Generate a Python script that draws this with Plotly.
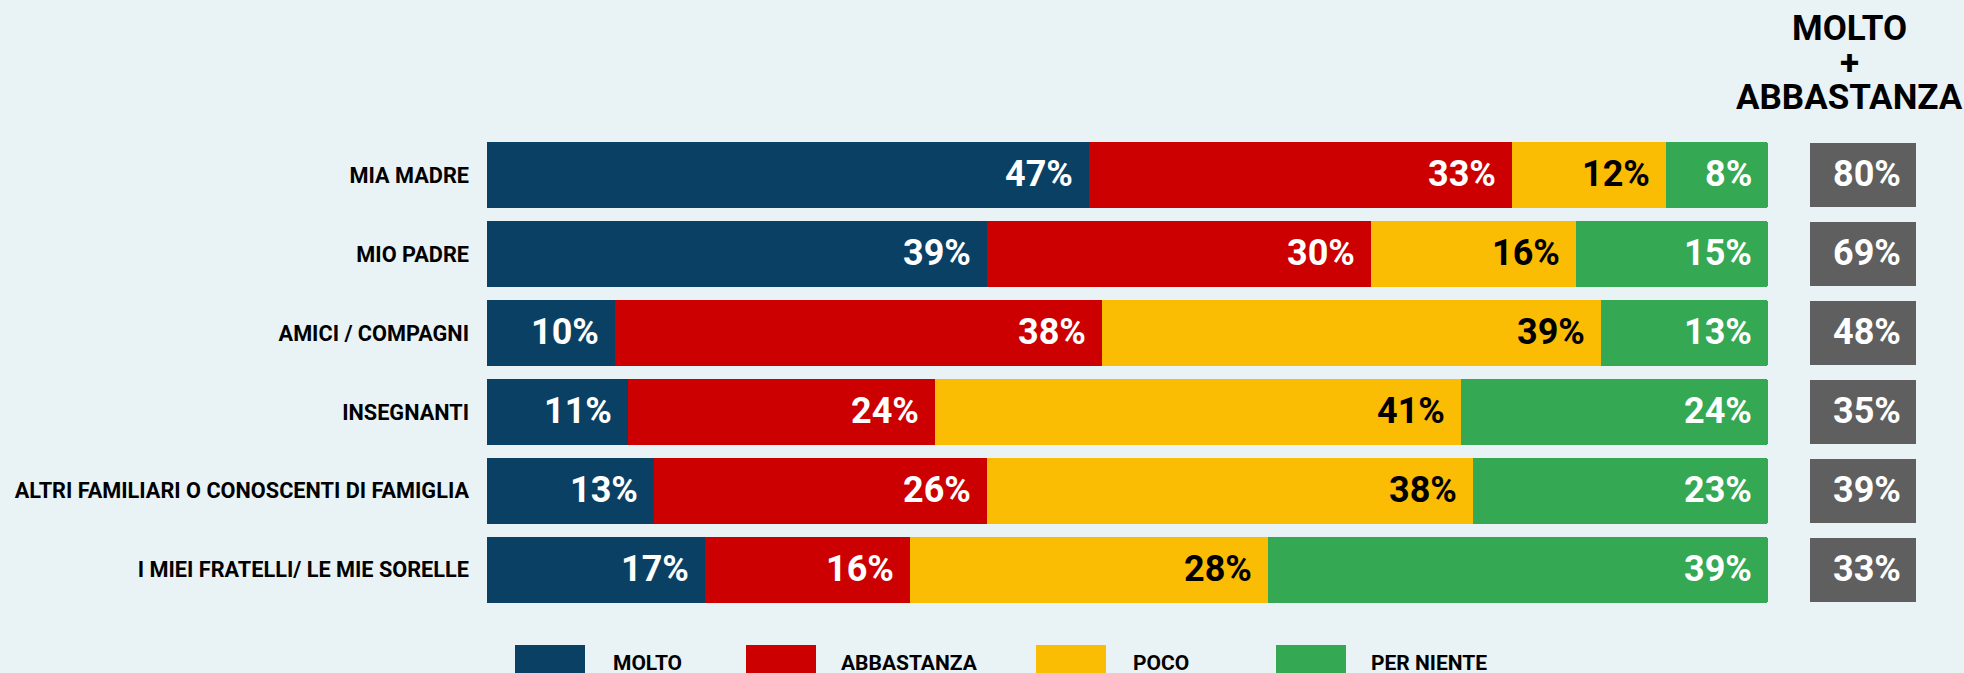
import plotly.graph_objects as go

# --- data -------------------------------------------------------------
categories = [
    "MIA MADRE",
    "MIO PADRE",
    "AMICI / COMPAGNI",
    "INSEGNANTI",
    "ALTRI FAMILIARI O CONOSCENTI DI FAMIGLIA",
    "I MIEI FRATELLI/ LE MIE SORELLE",
]
series_names = ["MOLTO", "ABBASTANZA", "POCO", "PER NIENTE"]
molto = [47, 39, 10, 11, 13, 17]
abbastanza = [33, 30, 38, 24, 26, 16]
poco = [12, 16, 39, 41, 38, 28]
per_niente = [8, 15, 13, 24, 23, 39]
summary_title = ["MOLTO", "+", "ABBASTANZA"]

# --- style ------------------------------------------------------------
W, H = 1964, 673
BG = "#e9f2f4"
COLORS = ["#0a4064", "#cc0000", "#fbbc04", "#34a853"]
TEXT_COLORS = ["white", "white", "black", "white"]
GRAY = "#5f5f5f"
FONT = "Roboto"

# plot area in pixels
PLOT_TOP, PLOT_BOTTOM = 135.5, 609.0
MAIN_X0, MAIN_X1 = 487, 1768
BOX_X0, BOX_X1 = 1810, 1916


def px_x(p):
    return p / W


def px_y(p):
    return (PLOT_BOTTOM - p) / (PLOT_BOTTOM - PLOT_TOP)


fig = go.Figure()

series = [molto, abbastanza, poco, per_niente]
for i, (name, vals) in enumerate(zip(series_names, series)):
    marker = dict(color=COLORS[i], line=dict(width=0))
    if i == len(series) - 1:
        marker["cornerradius"] = 3
    fig.add_trace(go.Bar(
        y=categories, x=vals, name=name, orientation="h",
        marker=marker, width=0.836, showlegend=False,
        hoverinfo="x+y+name",
    ))

# value labels at the inner end of every segment
running = [0] * len(categories)
for i, vals in enumerate(series):
    for j, v in enumerate(vals):
        running[j] += v
        fig.add_annotation(
            x=running[j], y=categories[j], xref="x", yref="y",
            text=f"{v}%", showarrow=False, xanchor="right", yanchor="middle",
            xshift=-14, yshift=1,
            font=dict(family=FONT, size=36, color=TEXT_COLORS[i], weight="bold"),
        )

# MOLTO + ABBASTANZA column
totals = [m + a for m, a in zip(molto, abbastanza)]
fig.add_trace(go.Bar(
    y=categories, x=[1] * len(categories), orientation="h",
    xaxis="x2", yaxis="y", marker=dict(color=GRAY, line=dict(width=0)),
    width=0.81, showlegend=False,
    hovertext=[f"{t}%" for t in totals], hoverinfo="text+y",
))
for j, t in enumerate(totals):
    fig.add_annotation(
        x=0.5, y=categories[j], xref="x2", yref="y",
        text=f"{t}%", showarrow=False, xanchor="center", yanchor="middle",
        xshift=4, yshift=1,
        font=dict(family=FONT, size=36, color="white", weight="bold"),
    )

# column header
for line, yc in zip(summary_title, [28, 63, 97]):
    fig.add_annotation(
        x=px_x(1849), y=px_y(yc), xref="paper", yref="paper",
        text=line, showarrow=False, xanchor="center", yanchor="middle",
        font=dict(family=FONT, size=35, color="black", weight="bold"),
    )

# legend drawn as swatches + labels along the bottom
swatch_x = [515, 746, 1036, 1276]
label_x = [611, 839, 1131, 1369]
for i, name in enumerate(series_names):
    fig.add_shape(
        type="rect", xref="paper", yref="paper",
        x0=px_x(swatch_x[i]), x1=px_x(swatch_x[i] + 70),
        y0=px_y(645), y1=px_y(700),
        fillcolor=COLORS[i], line=dict(width=0), layer="above",
    )
    fig.add_annotation(
        x=px_x(label_x[i]), y=px_y(663), xref="paper", yref="paper",
        text=name, showarrow=False, xanchor="left", yanchor="middle",
        font=dict(family=FONT, size=21, color="black", weight="bold"),
    )

fig.update_layout(
    width=W, height=H,
    paper_bgcolor=BG, plot_bgcolor=BG,
    barmode="stack", bargap=0,
    margin=dict(l=0, r=0, t=PLOT_TOP, b=H - PLOT_BOTTOM, pad=0),
    font=dict(family=FONT),
    xaxis=dict(domain=[px_x(MAIN_X0), px_x(MAIN_X1)], range=[0, 100],
               visible=False, fixedrange=True),
    xaxis2=dict(domain=[px_x(BOX_X0), px_x(BOX_X1)], range=[0, 1],
                visible=False, fixedrange=True, anchor="y"),
    yaxis=dict(categoryorder="array", categoryarray=categories,
               range=[len(categories) - 0.5, -0.5],
               showgrid=False, zeroline=False, showline=False, ticks="",
               ticklabelstandoff=17,
               tickfont=dict(family=FONT, size=21.7, color="black", weight="bold")),
    showlegend=False,
)

fig.write_html("out.html")
